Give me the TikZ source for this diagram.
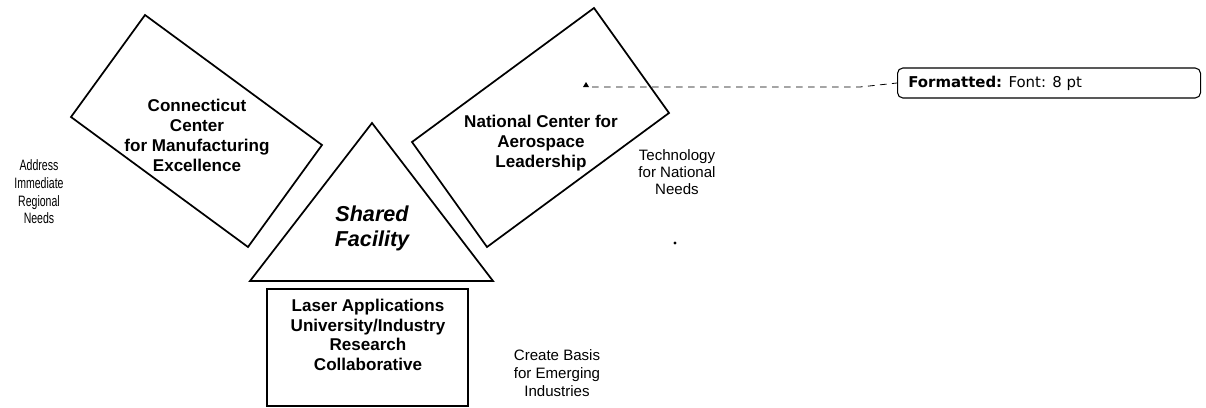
\documentclass[tikz,border=0pt]{standalone}
\usepackage{fontspec}
\setmainfont{Liberation Sans}
\newfontfamily\narrowsans[FakeStretch=0.7]{Liberation Sans}
\newfontfamily\cmtfont{DejaVu Sans}
\begin{document}
\begin{tikzpicture}[x=0.75pt,y=-0.75pt,
  shapeline/.style={draw=black,line width=1.3pt,line join=miter},
  boldlabel/.style={inner sep=0pt,align=center,font=\bfseries\fontsize{12.8}{15}\selectfont},
  sidelabel/.style={inner sep=0pt,align=center,font=\fontsize{11.3}{13.2}\selectfont},
  cmtbox/.style={draw=black,line width=0.8pt,rounded corners=4pt,minimum width=303*0.75pt,minimum height=30*0.75pt,inner sep=0pt,anchor=west}]
\useasboundingbox (0,0) rectangle (1206,407);
% left rotated rectangle
\coordinate (lt) at (145,15);
\coordinate (lr) at (322,145);
\coordinate (lb) at (248,247);
\coordinate (ll) at (71,117);
\draw[shapeline] (lt) -- (lr) -- (lb) -- (ll) -- cycle;
\node[boldlabel] (cc) at (197,135) {Connecticut\\Center\\for Manufacturing\\Excellence};
% right rotated rectangle
\coordinate (rt) at (594,8);
\coordinate (rr) at (669,113);
\coordinate (rb) at (487,247);
\coordinate (rl) at (412,142);
\draw[shapeline] (rt) -- (rr) -- (rb) -- (rl) -- cycle;
\node[boldlabel] (nc) at (541,143) {National Center for\\Aerospace\\Leadership};
% triangle
\coordinate (ta) at (372,123);
\coordinate (tr) at (493,281);
\coordinate (tl) at (250,281);
\draw[shapeline] (ta) -- (tr) -- (tl) -- cycle;
\node[inner sep=0pt,align=center,font=\bfseries\itshape\fontsize{16.2}{18.8}\selectfont] (sf) at (372,228) {Shared\\Facility};
% bottom rectangle
\draw[shapeline] (267,289) rectangle (468,406);
\node[boldlabel,font=\bfseries\fontsize{12.8}{14.6}\selectfont] (la) at (368,335) {Laser Applications\\University/Industry\\Research\\Collaborative};
% side labels
\node[sidelabel,font=\narrowsans\fontsize{11.3}{13.2}\selectfont] (ad) at (39,192) {Address\\Immediate\\Regional\\Needs};
\node[sidelabel,font=\fontsize{11.3}{12.8}\selectfont] (tn) at (677,172) {Technology\\for National\\Needs};
\node[sidelabel,font=\fontsize{11.3}{13.5}\selectfont] (cb) at (557,373) {Create Basis\\for Emerging\\Industries};
% stray dot
\fill (675,243) circle (1.6);
% comment balloon
\node[cmtbox] (fm) at (897,83) {\hspace*{11\pgflinewidth}};
\node[inner sep=0pt,anchor=west,font=\cmtfont\fontsize{11.2}{13}\selectfont] (fmt) at (908,83) {\textbf{Formatted:} Font: 8 pt};
\coordinate (anc) at (586,85);
\coordinate (bend) at (860,87);
\fill (anc) ++(0,-3) -- ++(3,5) -- ++(-6,0) -- cycle;
\draw[line width=0.6pt,dash pattern=on 5pt off 4pt] (592,87) -- (bend) -- (fm.west);
\end{tikzpicture}
\end{document}
